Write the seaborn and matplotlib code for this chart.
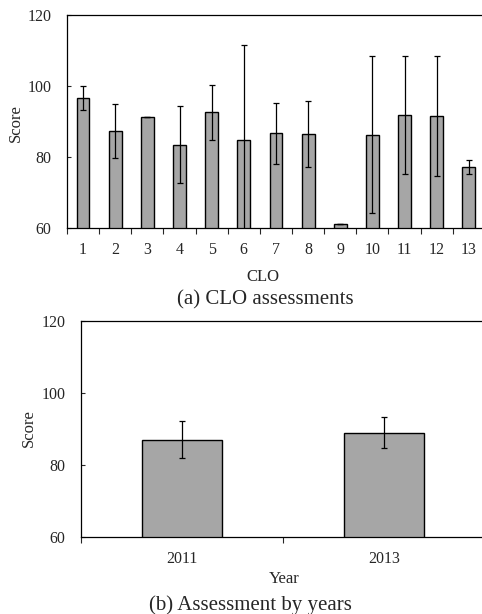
import numpy as np
import pandas as pd
import matplotlib
matplotlib.use("Agg")
import matplotlib.pyplot as plt
import seaborn as sns

# CLO assessment scores (mean and standard deviation)
clo_labels = ["1", "2", "3", "4", "5", "6", "7", "8", "9", "10", "11", "12", "13"]
clo_mean = [96.5, 87.2, 91.1, 83.4, 92.5, 84.6, 86.6, 86.4, 61.1, 86.2, 91.7, 91.5, 77.1]
clo_sd = [3.3, 7.6, 0.0, 10.8, 7.7, 26.9, 8.6, 9.3, 0.0, 22.1, 16.6, 17.0, 2.0]

# Assessment by years
years = ["2011", "2013"]
year_mean = [86.9, 88.9]
year_sd = [5.1, 4.2]

sns.set_style("white")
plt.rcParams["font.family"] = ["Liberation Serif", "DejaVu Serif"]

bar_color = "#a6a6a6"


def draw_panel(ax, labels, means, sds):
    df = pd.DataFrame({"cat": labels, "score": means})
    sns.barplot(data=df, x="cat", y="score", color=bar_color, width=0.4,
                edgecolor="black", linewidth=1.0, saturation=1, errorbar=None, ax=ax)
    ax.errorbar(np.arange(len(labels)), means, yerr=sds, fmt="none",
                ecolor="black", elinewidth=0.9, capsize=2.5, capthick=0.9)
    ax.set_ylim(60, 120)
    ax.set_yticks([60, 80, 100, 120])
    ax.set_xlim(-0.5, len(labels) - 0.5)
    ax.set_xticks(np.arange(len(labels) + 1) - 0.5, minor=True)
    ax.tick_params(axis="x", which="major", length=0, labelsize=11.5, pad=10)
    ax.tick_params(axis="x", which="minor", length=4, width=0.8, direction="out", bottom=True)
    ax.tick_params(axis="y", length=3, width=0.8, direction="in", left=True, labelsize=11.5, pad=11)
    ax.set_xlabel("")
    ax.set_ylabel("")
    for s in ax.spines.values():
        s.set_linewidth(0.9)
        s.set_color("black")


fig = plt.figure(figsize=(4.82, 6.14), dpi=100)

ax1 = fig.add_axes([0.139, 0.629, 0.867, 0.347])
draw_panel(ax1, clo_labels, clo_mean, clo_sd)

ax2 = fig.add_axes([0.168, 0.126, 0.838, 0.352])
draw_panel(ax2, years, year_mean, year_sd)

fig.text(0.033, 0.80, "Score", rotation=90, ha="center", va="center", fontsize=12)
fig.text(0.546, 0.549, "CLO", ha="center", va="center", fontsize=12)
fig.text(0.55, 0.511, "(a) CLO assessments", ha="center", va="center", fontsize=15)

fig.text(0.06, 0.303, "Score", rotation=90, ha="center", va="center", fontsize=12)
fig.text(0.589, 0.057, "Year", ha="center", va="center", fontsize=12)
fig.text(0.52, 0.0147, "(b) Assessment by years", ha="center", va="center", fontsize=15)

fig.savefig("out.png", dpi=100)
plt.close()
